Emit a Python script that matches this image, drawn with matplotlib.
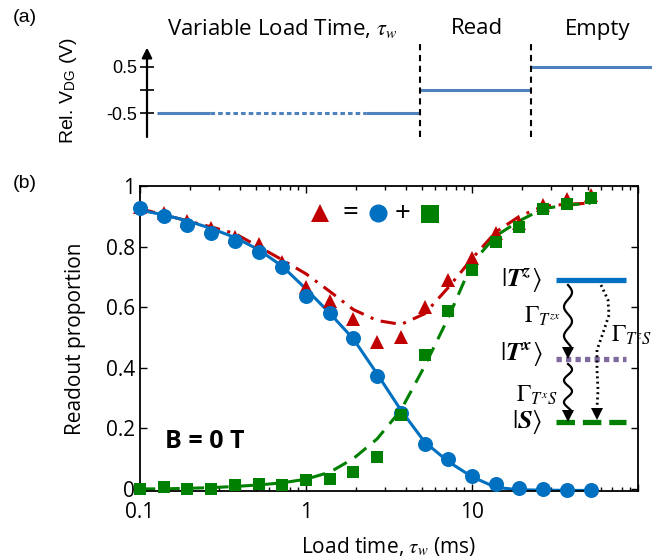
import numpy as np
import matplotlib.pyplot as plt
from matplotlib.lines import Line2D

plt.rcParams['font.family'] = ['Open Sans', 'DejaVu Sans']
plt.rcParams['mathtext.fontset'] = 'stix'

W, H = 652, 560

# ---- panel (b) data: load time (ms), 7 points per decade ----
load_ms = [0.1, 0.139, 0.193, 0.268, 0.373, 0.518, 0.720, 1.0, 1.39, 1.93,
           2.68, 3.73, 5.18, 7.20, 10.0, 13.9, 19.3, 26.8, 37.3, 51.8]
blue_pts = [0.928, 0.902, 0.871, 0.846, 0.818, 0.781, 0.732, 0.637, 0.582, 0.497,
            0.374, 0.252, 0.149, 0.098, 0.041, 0.017, 0.002, 0.0, -0.003, -0.004]
green_pts = [-0.001, 0.006, -0.001, -0.001, 0.012, 0.017, 0.014, 0.028, 0.031, 0.055,
             0.105, 0.244, 0.442, 0.587, 0.723, 0.815, 0.864, 0.923, 0.941, 0.959]
red_pts = [0.93, 0.91, 0.885, 0.86, 0.83, 0.81, 0.75, 0.668, 0.62, 0.561,
           0.485, 0.503, 0.602, 0.69, 0.763, 0.844, 0.877, 0.937, 0.956, 0.97]

# fitted curves at the same load times
blue_fit = [0.92, 0.905, 0.885, 0.86, 0.83, 0.79, 0.735, 0.66, 0.58, 0.495,
            0.38, 0.26, 0.155, 0.09, 0.04, 0.005, -0.003, -0.004, -0.005, -0.005]
green_fit = [0.0, 0.0, 0.002, 0.004, 0.008, 0.013, 0.02, 0.032, 0.055, 0.1,
             0.165, 0.26, 0.405, 0.565, 0.745, 0.835, 0.885, 0.925, 0.937, 0.943]
red_fit = [0.925, 0.905, 0.885, 0.865, 0.843, 0.80, 0.756, 0.71, 0.652, 0.592,
           0.556, 0.543, 0.578, 0.665, 0.76, 0.848, 0.90, 0.933, 0.94, 0.943]

# ---- panel (a) data: pulse sequence ----
pulse_levels = [-0.5, 0.0, 0.5]
pulse_edges = [2, 54, 76, 100]
load_dotted = [12.5, 43.3]
phase_names = ["Variable Load Time, $\\tau_w$", "Read", "Empty"]
phase_pos = [282, 477, 598]

BLUE = '#0070C0'
RED = '#C00000'
GREEN = '#008000'
PURPLE = '#7F6A9F'
PULSE = '#4F81BD'


def fxy(x, y):
    return x / W, 1 - y / H


fig = plt.figure(figsize=(W / 100, H / 100), dpi=100)

# ================= panel (a) =================
axa = fig.add_axes([147 / W, 1 - 137 / H, (652 - 147) / W, 94 / H])
axa.set_xlim(0, 100)
axa.set_ylim(-1.02, 1.02)
for s in axa.spines.values():
    s.set_visible(False)
axa.set_xticks([])
axa.set_yticks([-0.5, 0, 0.5])
axa.set_yticklabels(['-0.5', '', '0.5'], family='Liberation Sans', fontsize=13)
axa.tick_params(axis='y', direction='inout', length=10, width=1.2, pad=2)
axa.annotate('', xy=(0, 0.92), xytext=(0, -1.02),
             arrowprops=dict(arrowstyle='-|>', color='k', lw=1.6, mutation_scale=15,
                             shrinkA=0, shrinkB=0))

for i, lvl in enumerate(pulse_levels):
    if i == 0:
        axa.plot([pulse_edges[0], load_dotted[0]], [lvl, lvl], color=PULSE, lw=2.2,
                 solid_capstyle='butt')
        axa.plot(load_dotted, [lvl, lvl], color=PULSE, lw=2.2, dashes=(1.5, 1))
        axa.plot([load_dotted[1], pulse_edges[1]], [lvl, lvl], color=PULSE, lw=2.2,
                 solid_capstyle='butt')
    else:
        axa.plot([pulse_edges[i], pulse_edges[i + 1]], [lvl, lvl], color=PULSE, lw=2.2,
                 solid_capstyle='butt', clip_on=False)
for xb in pulse_edges[1:3]:
    axa.axvline(xb, ymin=0, ymax=1.0, color='k', lw=1.5, dashes=(3, 2.2))

axa.text(-15.5, 0, 'Rel. V$_{\\mathregular{DG}}$ (V)', rotation=90, ha='center', va='center',
         family='Liberation Sans', fontsize=14)
for name, xp in zip(phase_names, phase_pos):
    fig.text(*fxy(xp, 29), name, ha='center', va='center', fontsize=16)
fig.text(*fxy(25, 18), '(a)', ha='center', va='center', family='Liberation Sans', fontsize=14)
fig.text(*fxy(25, 183), '(b)', ha='center', va='center', family='Liberation Sans', fontsize=14)

# ================= panel (b) =================
ax = fig.add_axes([140 / W, (H - 490.7) / H, 498 / W, 304.7 / H])
ax.set_xscale('log')
ax.set_xlim(0.1, 100)
ax.set_ylim(-0.006, 1.0)

ax.plot(load_ms, red_fit, color=RED, lw=2.2, dashes=(5, 2.5, 1, 2.5), zorder=2)
ax.plot(load_ms, green_fit, color=GREEN, lw=2.2, dashes=(5, 3), zorder=2)
ax.plot(load_ms, blue_fit, color=BLUE, lw=2.2, zorder=2)
ax.plot(load_ms, red_pts, '^', color=RED, ms=9.5, mew=0, zorder=3, clip_on=False)
ax.plot(load_ms, blue_pts, 'o', color=BLUE, ms=10.8, mew=0, zorder=4, clip_on=False)
ax.plot(load_ms, green_pts, 's', color=GREEN, ms=8.3, mew=0, zorder=4, clip_on=False)

ax.set_xticks([0.1, 1, 10, 100])
ax.set_xticklabels(['0.1', '1', '10', ''])
ax.xaxis.set_minor_formatter(plt.NullFormatter())
ax.set_yticks([0, 0.2, 0.4, 0.6, 0.8, 1.0])
ax.set_yticklabels(['0', '0.2', '0.4', '0.6', '0.8', '1'])
ax.tick_params(which='both', direction='in', top=True, right=True, labelsize=15, width=1)
ax.tick_params(which='major', length=5)
ax.tick_params(which='minor', length=3)
ax.tick_params(axis='x', which='major', pad=8)
for s in ax.spines.values():
    s.set_linewidth(1.3)
ax.set_xlabel('Load time, $\\tau_w$ (ms)', fontsize=15, labelpad=9)
ax.set_ylabel('Readout proportion', fontsize=15, labelpad=14)
ax.text(0.131, 0.163, 'B = 0 T', transform=ax.transAxes, ha='center', va='center',
        fontsize=18, fontweight='bold')

# marker "equation" at the top
tf = fig.transFigure
eq_y = 213
fig.add_artist(Line2D(*zip(fxy(320, eq_y)), marker='^', color=RED, ms=13, mew=0, transform=tf))
fig.text(*fxy(350, eq_y), '=', ha='center', va='center', fontsize=20)
fig.add_artist(Line2D(*zip(fxy(378, eq_y)), marker='o', color=BLUE, ms=13, mew=0, transform=tf))
fig.text(*fxy(403, eq_y + 1), '+', ha='center', va='center', fontsize=20)
fig.add_artist(Line2D(*zip(fxy(430, eq_y + 1)), marker='s', color=GREEN, ms=13, mew=0, transform=tf))

# level diagram
lx0, lx1 = 556, 626
y_tz, y_tx, y_s = 280, 359, 422
fig.add_artist(Line2D(*zip(fxy(lx0, y_tz), fxy(lx1, y_tz)), color=BLUE, lw=3.8,
                      solid_capstyle='butt', transform=tf))
fig.add_artist(Line2D(*zip(fxy(lx0, y_tx), fxy(lx1, y_tx)), color=PURPLE, lw=3.8,
                      dashes=(1, 0.8), transform=tf))
fig.add_artist(Line2D(*zip(fxy(lx0, y_s), fxy(lx1, y_s)), color=GREEN, lw=3.8,
                      dashes=(3.5, 1.5), transform=tf))
fig.text(*fxy(521, y_tz), '$|\\mathbfit{T}^{\\mathbfit{z}}\\rangle$', ha='center', va='center', fontsize=19)
fig.text(*fxy(521, y_tx - 5), '$|\\mathbfit{T}^{\\mathbfit{x}}\\rangle$', ha='center', va='center', fontsize=19)
fig.text(*fxy(527, y_s), '$|\\mathbfit{S}\\rangle$', ha='center', va='center', fontsize=19)
fig.text(*fxy(542, 317), '$\\Gamma_{T^{zx}}$', ha='center', va='center', fontsize=17)
fig.text(*fxy(537, 396), '$\\Gamma_{T^{x}S}$', ha='center', va='center', fontsize=17)
fig.text(*fxy(631, 336), '$\\Gamma_{T^{z}S}$', ha='center', va='center', fontsize=17)


def wavy_arrow(x, y0, y1):
    t = np.linspace(0, 1, 120)
    yy = y0 + (y1 - 8 - y0) * t
    xx = x + 4 * np.sin(2 * np.pi * 2.2 * t)
    fig.add_artist(Line2D(xx / W, 1 - yy / H, color='k', lw=1.6, transform=tf))
    fig.add_artist(Line2D([x / W], [1 - (y1 - 4) / H], marker='v', color='k', ms=9,
                          mew=0, transform=tf))


wavy_arrow(568, y_tz + 5, y_tx - 2)
wavy_arrow(568, y_tx + 5, y_s - 2)
dot_x = [601, 608, 609, 603, 597, 597, 598, 597]
dot_y = [285, 300, 315, 333, 350, 370, 390, 408]
fig.add_artist(Line2D(np.array(dot_x) / W, 1 - np.array(dot_y) / H, color='k', lw=2,
                      dashes=(0.7, 1.2), transform=tf))
fig.add_artist(Line2D([597 / W], [1 - 414 / H], marker='v', color='k', ms=9, mew=0, transform=tf))

fig.savefig('out.png', dpi=100)
